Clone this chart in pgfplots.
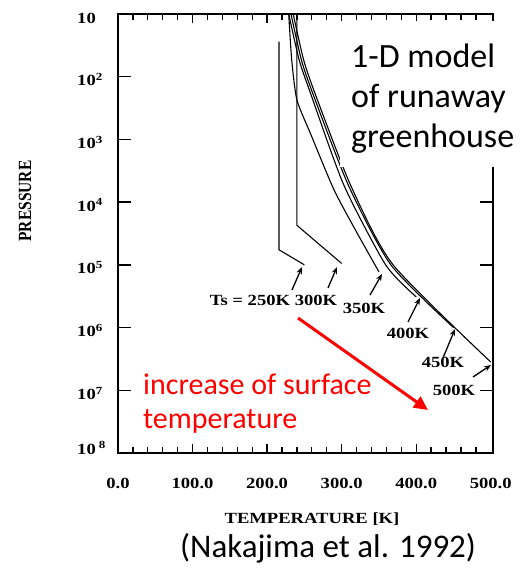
\documentclass[border=0pt]{standalone}
\usepackage{fontspec}
\setmainfont{Liberation Serif}
\newfontfamily\calibri{Carlito}
\usepackage{graphicx}
\usepackage{pgfplots}
\pgfplotsset{compat=1.18}
\usetikzlibrary{arrows.meta}
\newcommand{\tl}[1]{\scalebox{1.2}[1]{\fontsize{15.5}{18}\selectfont\bfseries #1}}
\begin{document}
\begin{tikzpicture}
\path[use as bounding box] (0pt,0pt) rectangle (526pt,571pt);
\begin{axis}[
  at={(118pt,118pt)}, anchor=south west,
  scale only axis, width=375pt, height=439pt,
  xmin=0, xmax=503, ymin=10, ymax=1e8, ymode=log, y dir=reverse,
  axis line style={line width=1.5pt},
  xtick={0,100,200,300,400,500},
  xticklabels={\tl{0.0},\tl{100.0},\tl{200.0},\tl{300.0},\tl{400.0},\tl{500.0}},
  ytick={1e1,1e2,1e3,1e4,1e5,1e6,1e7,1e8},
  yticklabels={\tl{10},\tl{10\textsuperscript{2}},\tl{10\textsuperscript{3}},\tl{10\textsuperscript{4}},\tl{10\textsuperscript{5}},\tl{10\textsuperscript{6}},\tl{10\textsuperscript{7}},\raisebox{8pt}{\tl{10\,\textsuperscript{8}}}},
  yminorticks=false,
  major tick length=0pt, tick style={draw=none},
  xticklabel style={anchor=base, inner sep=0pt, yshift=-35pt},
  yticklabel style={anchor=base west, inner sep=0pt, xshift=-41pt, yshift=-9pt},
]
\addplot[black, line width=1.1pt] coordinates {(216,27.5) (216,5.75e4) (250,1e5)};
\addplot[black, line width=1.1pt] coordinates {(240,10) (240,2.34e4) (300,9.5e4)};
\addplot[black, line width=1.1pt, smooth, tension=0.4] coordinates {(229,10) (233,54) (240,234) (259,851) (290,6457) (322,33113) (350,1.29e5)};
\addplot[black, line width=1.1pt, smooth, tension=0.4] coordinates {(229,10) (243,54) (259,195) (303,5370) (359,1e5) (400,3.24e5)};
\addplot[black, line width=1.1pt, smooth, tension=0.4] coordinates {(232,10) (246,54) (262,195) (309,5370) (366,1e5) (450,1e6)};
\addplot[black, line width=1.1pt, smooth, tension=0.4] coordinates {(235,10) (249,54) (265,195) (312,5370) (369,1e5) (500,3.55e6)};
\end{axis}
\begin{scope}[x=1pt,y=1pt]
% inward tick marks of the frame
\foreach \d in {1,...,6} {
  \draw[line width=1.4pt] (118,{118+\d*62.714}) -- ++(13,0);
  \draw[line width=1.4pt] (493,{118+\d*62.714}) -- ++(-13,0);
}
\foreach \t in {20,40,...,480} {
  \draw[line width=1.3pt] ({118+\t*0.745527},118) -- ++(0,6);
  \draw[line width=1.3pt] ({118+\t*0.745527},557) -- ++(0,-6);
}
\foreach \t in {100,200,300,400} {
  \draw[line width=1.4pt] ({118+\t*0.745527},118) -- ++(0,9);
  \draw[line width=1.4pt] ({118+\t*0.745527},557) -- ++(0,-9);
}
% curve labels and arrows
\node[anchor=base] at (250,265) {\tl{Ts = 250K}};
\node[anchor=base] at (316,265) {\tl{300K}};
\node[anchor=base] at (364,257) {\tl{350K}};
\node[anchor=base] at (408,232) {\tl{400K}};
\node[anchor=base] at (443,203) {\tl{450K}};
\node[anchor=base] at (454,175) {\tl{500K}};
\begin{scope}[line width=1.3pt, -{Stealth[length=7pt,width=5.5pt]}]
\draw (292,281) -- (302,304);
\draw (328,283) -- (337,304);
\draw (370,276) -- (382,297);
\draw (408,249) -- (420,273);
\draw (443,213) -- (455,242);
\draw (473,194) -- (491,206);
\end{scope}
% axis titles
\node[rotate=90] at (25,370) {\scalebox{1}[1.2]{\fontsize{15.5}{18}\selectfont\bfseries PRESSURE}};
\node[anchor=base] at (312,47) {\tl{TEMPERATURE [K]}};
% overlay annotations
\fill[white] (340,404) rectangle (526,550);
\node[anchor=base west, inner sep=0pt] at (351,503) {\calibri\fontsize{34}{40}\selectfont 1-D model};
\node[anchor=base west, inner sep=0pt] at (351,463) {\calibri\fontsize{34}{40}\selectfont of runaway};
\node[anchor=base west, inner sep=0pt] at (351,423) {\calibri\fontsize{34}{40}\selectfont greenhouse};
\draw[red, line width=3pt, -{Triangle[length=14pt,width=13pt]}] (298,253) -- (428,161);
\node[anchor=base west, inner sep=0pt, text=red] at (143,176) {\calibri\fontsize{30}{36}\selectfont increase of surface};
\node[anchor=base west, inner sep=0pt, text=red] at (143,142) {\calibri\fontsize{30}{36}\selectfont temperature};
\node[anchor=base west, inner sep=0pt] at (180,13) {\calibri\fontsize{33}{40}\selectfont (Nakajima et al. 1992)};
\end{scope}
\end{tikzpicture}
\end{document}
